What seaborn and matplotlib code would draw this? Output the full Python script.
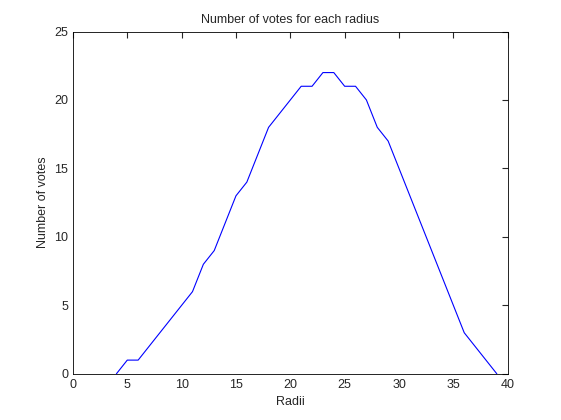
import matplotlib
matplotlib.use("Agg")
import matplotlib.pyplot as plt
import seaborn as sns
import pandas as pd

radii = list(range(4, 40))
votes = [0, 1, 1, 2, 3, 4, 5, 6, 8, 9, 11, 13, 14, 16, 18, 19, 20, 21, 21, 22,
         22, 21, 21, 20, 18, 17, 15, 13, 11, 9, 7, 5, 3, 2, 1, 0]

sns.set_style("white")
plt.rcParams['font.family'] = ['Liberation Sans', 'DejaVu Sans']
plt.rcParams['xtick.direction'] = 'in'
plt.rcParams['ytick.direction'] = 'in'

fig = plt.figure(figsize=(5.61, 4.2), dpi=100)
ax = fig.add_axes([0.13, 0.11, 0.775, 0.815])
df = pd.DataFrame({"r": radii, "v": votes})
sns.lineplot(data=df, x="r", y="v", ax=ax, color="blue", linewidth=0.8)
ax.set_xlim(0, 40)
ax.set_ylim(0, 25)
ax.set_xticks(range(0, 41, 5))
ax.set_yticks(range(0, 26, 5))
ax.tick_params(labelsize=9, length=4, top=True, right=True)
for s in ax.spines.values():
    s.set_color("black"); s.set_linewidth(0.6)
ax.set_xlabel("Radii", fontsize=9)
ax.set_ylabel("Number of votes", fontsize=9)
ax.set_title("Number of votes for each radius", fontsize=9)
fig.savefig("out.png", dpi=100)
